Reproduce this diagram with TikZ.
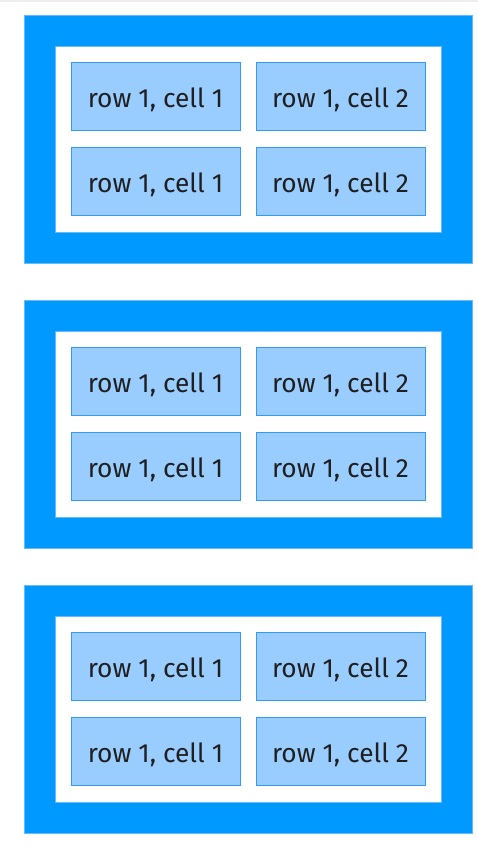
\documentclass[tikz,border=0pt]{standalone}
\usepackage{fontspec}
\setsansfont{Fira Sans}
\usetikzlibrary{positioning}
\definecolor{cPanel}{HTML}{0099FF}
\definecolor{cPanelEdge}{HTML}{66BBFF}
\definecolor{cCell}{HTML}{99CCFF}
\definecolor{cCellEdge}{HTML}{3399FF}
\definecolor{cTop}{HTML}{EEEEEE}
\tikzset{
  font=\sffamily,
  panel/.style={draw=cPanelEdge, fill=cPanel, line width=0.8pt,
                minimum width=448pt, minimum height=248pt, inner sep=0pt},
  inner/.style={draw=cPanelEdge, fill=white, line width=0.8pt,
                minimum width=386pt, minimum height=186pt, inner sep=0pt},
  cell/.style={draw=cCellEdge, fill=cCell, line width=0.8pt,
               minimum width=169pt, minimum height=68pt, inner sep=0pt,
               text height=24pt, text depth=1.4pt,
               font=\sffamily\fontsize{26.3}{30}\selectfont, text=black!88},
}

\begin{document}
\begin{tikzpicture}[x=1pt, y=-1pt]
    \useasboundingbox (0,0) rectangle (478,850);
    \fill[cTop] (0,0) rectangle (478,2);
    % first table
    \node[panel] (panelA) at (248,139) {};
    \node[inner] (innerA) at (248,139) {};
    \node[cell] (cellA11) at (155.5,96) {row 1, cell 1};
    \node[cell] (cellA12) at (340.5,96) {row 1, cell 2};
    \node[cell] (cellA21) at (155.5,181) {row 1, cell 1};
    \node[cell] (cellA22) at (340.5,181) {row 1, cell 2};
    % second table
    \node[panel] (panelB) at (248,424) {};
    \node[inner] (innerB) at (248,424) {};
    \node[cell] (cellB11) at (155.5,381) {row 1, cell 1};
    \node[cell] (cellB12) at (340.5,381) {row 1, cell 2};
    \node[cell] (cellB21) at (155.5,466) {row 1, cell 1};
    \node[cell] (cellB22) at (340.5,466) {row 1, cell 2};
    % third table
    \node[panel] (panelC) at (248,709) {};
    \node[inner] (innerC) at (248,709) {};
    \node[cell] (cellC11) at (155.5,666) {row 1, cell 1};
    \node[cell] (cellC12) at (340.5,666) {row 1, cell 2};
    \node[cell] (cellC21) at (155.5,751) {row 1, cell 1};
    \node[cell] (cellC22) at (340.5,751) {row 1, cell 2};
\end{tikzpicture}
\end{document}
